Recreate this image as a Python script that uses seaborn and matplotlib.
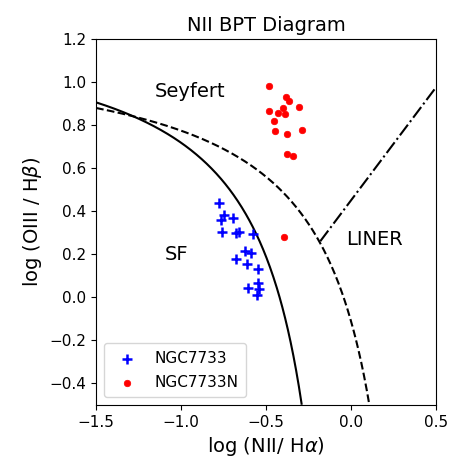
import numpy as np
import matplotlib
matplotlib.use("Agg")
import matplotlib.pyplot as plt
import seaborn as sns

# NGC7733 (blue crosses)
ngc7733_x = [-0.776, -0.747, -0.766, -0.696, -0.759, -0.678, -0.657, -0.578, -0.625,
             -0.590, -0.676, -0.614, -0.547, -0.608, -0.547, -0.539, -0.555]
ngc7733_y = [0.441, 0.385, 0.359, 0.367, 0.302, 0.297, 0.303, 0.293, 0.215,
             0.205, 0.180, 0.155, 0.134, 0.043, 0.066, 0.041, 0.010]

# NGC7733N (red dots)
ngc7733n_x = [-0.482, -0.384, -0.365, -0.398, -0.304, -0.482, -0.431, -0.388,
              -0.451, -0.286, -0.447, -0.375, -0.375, -0.341, -0.394]
ngc7733n_y = [0.984, 0.933, 0.913, 0.882, 0.885, 0.865, 0.856, 0.850,
              0.819, 0.780, 0.775, 0.759, 0.666, 0.657, 0.283]

# demarcation lines (Kauffmann 2003, Kewley 2001, Schawinski 2007)
kauff = (0.61, 0.05, 1.30)
kewley = (0.61, 0.47, 1.19)
liner_slope, liner_icpt, liner_start = 1.05, 0.45, -0.18

fig = plt.figure(figsize=(4.53, 4.61), dpi=100)
ax = fig.add_axes([0.212, 0.1215, 0.750, 0.7935])

xk = np.linspace(-1.5, -0.29, 300)
ax.plot(xk, kauff[0] / (xk - kauff[1]) + kauff[2], "k-", lw=1.5)
xw = np.linspace(-1.5, 0.11, 300)
ax.plot(xw, kewley[0] / (xw - kewley[1]) + kewley[2], "k--", lw=1.5)
xl = np.array([liner_start, 0.5])
ax.plot(xl, liner_slope * xl + liner_icpt, "k-.", lw=1.5)

sns.scatterplot(x=ngc7733_x, y=ngc7733_y, marker="+", color="blue", s=50,
                linewidth=1.8, label="NGC7733", ax=ax, zorder=3)
sns.scatterplot(x=ngc7733n_x, y=ngc7733n_y, marker="o", color="red", s=22,
                edgecolor="red", linewidth=0.5, label="NGC7733N", ax=ax, zorder=3)

ax.text(-1.155, 0.955, "Seyfert", fontsize=14, va="center")
ax.text(-1.095, 0.20, "SF", fontsize=14, va="center")
ax.text(-0.025, 0.27, "LINER", fontsize=14, va="center")

ax.set_xlim(-1.5, 0.5)
ax.set_ylim(-0.5, 1.2)
ax.set_xticks([-1.5, -1.0, -0.5, 0.0, 0.5])
ax.set_yticks(np.arange(-0.4, 1.21, 0.2))
ax.tick_params(labelsize=11)
ax.set_xlabel(r"log (NII/ H$\alpha$)", fontsize=14)
ax.set_ylabel(r"log (OIII / H$\beta$)", fontsize=14)
ax.set_title("NII BPT Diagram", fontsize=14)
ax.legend(loc="lower left", fontsize=11, borderpad=0.5, labelspacing=0.6)

fig.savefig("out.png", dpi=100)
